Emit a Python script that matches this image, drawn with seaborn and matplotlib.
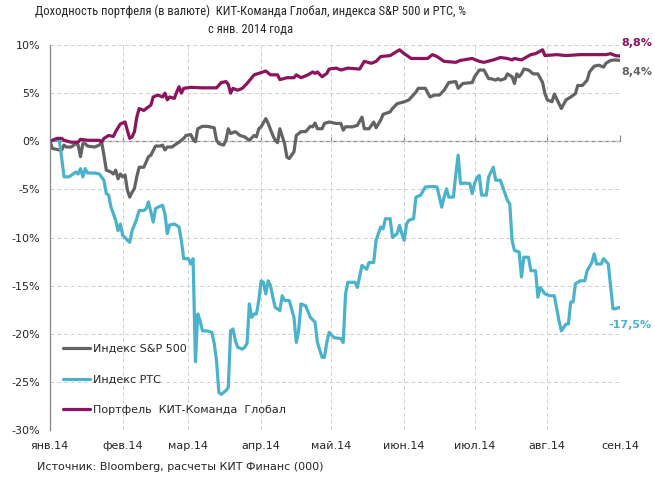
import pandas as pd
import matplotlib
matplotlib.use('Agg')
import matplotlib.pyplot as plt
import seaborn as sns

# даты (2014 год, ММ-ДД) и доходности, %
port_dates = ['01-01', '01-04', '01-06', '01-07', '01-10', '01-13', '01-14', '01-17', '01-22', '01-23', '01-24', '01-26', '01-28', '01-29', '01-31',
              '02-02', '02-03', '02-04', '02-05', '02-06', '02-07', '02-08', '02-10', '02-11', '02-13', '02-14', '02-16', '02-18', '02-19', '02-20', '02-21', '02-23', '02-24', '02-25', '02-26', '02-27',
              '03-02', '03-07', '03-13', '03-15', '03-17', '03-18', '03-19', '03-20', '03-22', '03-24', '03-26', '03-29', '03-31',
              '04-03', '04-05', '04-08', '04-09', '04-12', '04-15', '04-16', '04-18', '04-21', '04-23', '04-24', '04-25', '04-27', '04-29', '04-30',
              '05-03', '05-05', '05-08', '05-13', '05-15', '05-18', '05-20', '05-22', '05-26', '05-28', '05-30',
              '06-01', '06-04', '06-08', '06-11', '06-13', '06-15', '06-18', '06-23', '06-25', '06-30',
              '07-03', '07-05', '07-09', '07-12', '07-15', '07-17', '07-18', '07-21', '07-25', '07-27', '07-30', '07-31',
              '08-05', '08-09', '08-15', '08-21', '08-26', '08-28', '08-30',
              '09-01']
port_vals = [0.0, 0.3, 0.3, 0.1, -0.1, -0.1, 0.2, 0.1, 0.1, -0.05, 0.3, 0.6, 0.5, 1.0, 1.8,
             2.0, 1.1, 0.3, 0.45, 1.0, 2.5, 3.4, 3.2, 3.4, 3.75, 4.6, 4.8, 4.6, 5.0, 4.3, 4.6, 4.45, 5.1, 5.66, 5.0, 5.5,
             5.6, 5.55, 5.55, 6.1, 6.2, 5.9, 5.0, 5.5, 5.3, 5.5, 6.0, 6.9, 7.05,
             7.3, 6.9, 6.9, 6.4, 6.6, 6.6, 6.9, 6.6, 6.9, 7.2, 7.05, 7.2, 6.7, 7.05, 7.5,
             7.6, 7.4, 7.6, 7.5, 8.3, 8.1, 8.3, 8.8, 8.9, 9.2, 9.5,
             9.1, 8.6, 8.6, 8.6, 9.0, 8.8, 8.3, 8.2, 8.4, 8.6,
             8.3, 8.2, 8.45, 8.7, 8.6, 8.45, 8.6, 8.45, 9.0, 9.1, 9.5, 8.9,
             9.0, 8.9, 9.0, 9.0, 9.0, 9.1, 8.9,
             8.85]

sp_dates = ['01-01', '01-02', '01-05', '01-06', '01-07', '01-08', '01-10', '01-12', '01-13', '01-14', '01-15', '01-16', '01-17', '01-20', '01-22', '01-23', '01-24', '01-25', '01-27', '01-28', '01-29', '01-30', '01-31',
            '02-01', '02-02', '02-03', '02-04', '02-05', '02-06', '02-07', '02-08', '02-10', '02-12', '02-13', '02-15', '02-17', '02-18', '02-19', '02-20', '02-22', '02-24', '02-25', '02-27', '02-28',
            '03-02', '03-03', '03-04', '03-05', '03-07', '03-09', '03-12', '03-13', '03-14', '03-16', '03-17', '03-18', '03-19', '03-21', '03-23', '03-25', '03-27', '03-29', '03-30', '03-31',
            '04-01', '04-03', '04-04', '04-06', '04-07', '04-08', '04-09', '04-11', '04-12', '04-13', '04-15', '04-16', '04-18', '04-20', '04-22', '04-23', '04-24', '04-25', '04-27', '04-28', '04-30',
            '05-03', '05-05', '05-06', '05-07', '05-10', '05-12', '05-14', '05-15', '05-17', '05-18', '05-19', '05-20', '05-22', '05-23', '05-26', '05-27', '05-29',
            '06-01', '06-03', '06-06', '06-07', '06-10', '06-12', '06-14', '06-16', '06-18', '06-20', '06-23', '06-24', '06-26', '06-30',
            '07-01', '07-03', '07-05', '07-07', '07-08', '07-10', '07-11', '07-12', '07-14', '07-15', '07-17', '07-18', '07-19', '07-20', '07-21', '07-22', '07-24', '07-26', '07-28', '07-30', '07-31',
            '08-01', '08-03', '08-04', '08-06', '08-07', '08-09', '08-10', '08-11', '08-13', '08-14', '08-16', '08-18', '08-19', '08-21', '08-23', '08-25', '08-26', '08-28', '08-30',
            '09-01']
sp_vals = [0.0, -0.75, -0.9, -0.9, -0.4, -0.6, -0.6, -0.25, -0.4, -1.6, -0.25, -0.25, -0.5, -0.6, -0.4, -0.05, -1.45, -3.0, -3.2, -3.4, -3.0, -3.9, -3.4,
           -3.7, -3.5, -5.1, -5.8, -5.3, -4.9, -3.7, -2.7, -2.7, -1.6, -1.45, -0.5, -0.5, -0.4, -0.9, -0.6, -0.6, -0.25, -0.1, 0.3, 0.6,
           0.7, 0.2, -0.05, 1.3, 1.55, 1.55, 1.4, 0.1, -0.25, -0.4, 0.1, 1.3, 0.8, 1.0, 0.6, 0.45, 0.1, 0.6, 0.45, 1.3,
           1.5, 2.35, 1.85, 0.6, 0.1, -0.15, 1.3, -0.25, -1.65, -1.8, -1.1, 0.6, 1.0, 1.0, 1.55, 1.5, 1.9, 1.3, 1.3, 1.85, 2.0,
           1.85, 1.85, 1.15, 1.5, 1.5, 1.65, 2.5, 1.3, 1.3, 1.65, 2.0, 1.4, 2.2, 2.8, 3.05, 3.4, 3.9,
           4.1, 4.3, 5.1, 5.5, 5.5, 4.6, 4.8, 4.8, 5.3, 6.1, 6.2, 5.5, 6.0, 6.1,
           6.7, 7.4, 7.4, 6.5, 6.5, 6.35, 6.5, 6.35, 6.5, 7.0, 6.7, 6.0, 7.0, 6.7, 7.0, 7.5, 7.4, 7.0, 7.0, 6.1, 4.95,
           4.3, 4.1, 4.9, 3.9, 3.4, 4.3, 4.45, 4.6, 4.95, 5.8, 5.8, 6.35, 7.2, 7.8, 7.9, 7.7, 8.1, 8.4, 8.45,
           8.4]

rts_dates = ['01-01', '01-03', '01-05', '01-06', '01-07', '01-09', '01-10', '01-12', '01-13', '01-14', '01-15', '01-16', '01-17', '01-20', '01-22', '01-24', '01-25', '01-26', '01-27', '01-29', '01-30', '01-31',
             '02-01', '02-02', '02-03', '02-04', '02-05', '02-07', '02-08', '02-10', '02-11', '02-12', '02-14', '02-15', '02-16', '02-18', '02-19', '02-20', '02-21', '02-23', '02-25', '02-26', '02-27',
             '03-01', '03-02', '03-03', '03-04', '03-05', '03-06', '03-07', '03-09', '03-11', '03-12', '03-13', '03-14', '03-15', '03-17', '03-18', '03-19', '03-20', '03-21', '03-22', '03-24', '03-25', '03-26', '03-27', '03-28', '03-29', '03-30', '03-31',
             '04-01', '04-02', '04-03', '04-04', '04-05', '04-06', '04-07', '04-09', '04-10', '04-11', '04-13', '04-15', '04-16', '04-17', '04-18', '04-20', '04-22', '04-24', '04-25', '04-27', '04-28', '04-29', '04-30',
             '05-02', '05-05', '05-06', '05-07', '05-08', '05-11', '05-12', '05-14', '05-16', '05-17', '05-19', '05-20', '05-22', '05-23', '05-24', '05-26', '05-27', '05-29', '05-30', '05-31',
             '06-01', '06-02', '06-03', '06-05', '06-06', '06-08', '06-10', '06-13', '06-15', '06-16', '06-17', '06-18', '06-19', '06-20', '06-22', '06-23', '06-24', '06-25', '06-27', '06-29', '06-30',
             '07-01', '07-02', '07-03', '07-04', '07-06', '07-07', '07-09', '07-10', '07-12', '07-15', '07-16', '07-17', '07-18', '07-20', '07-21', '07-22', '07-24', '07-25', '07-27', '07-28', '07-29', '07-31',
             '08-02', '08-04', '08-06', '08-07', '08-09', '08-10', '08-11', '08-12', '08-13', '08-15', '08-17', '08-18', '08-20', '08-21', '08-22', '08-24', '08-25', '08-27', '08-29', '08-30',
             '09-01']
rts_vals = [0.0, 0.15, 0.1, -1.8, -3.7, -3.7, -3.55, -3.2, -3.4, -2.85, -3.7, -2.85, -3.3, -3.3, -3.4, -4.05, -5.45, -5.6, -6.85, -8.2, -9.3, -8.6,
            -9.8, -10.0, -10.3, -10.5, -9.3, -8.05, -7.2, -7.2, -7.0, -6.3, -8.4, -7.0, -6.85, -6.65, -7.55, -9.6, -8.7, -8.6, -8.9, -10.3, -12.2,
            -12.2, -12.75, -12.2, -22.9, -17.95, -18.65, -19.7, -19.7, -19.85, -21.0, -22.8, -26.1, -26.3, -25.9, -25.6, -19.7, -19.5, -20.7, -21.4, -21.6, -21.4, -21.0, -16.9, -18.3, -17.95, -17.95, -16.55,
            -14.5, -14.65, -15.85, -14.5, -15.0, -16.2, -17.25, -17.6, -16.05, -16.55, -16.55, -18.3, -20.9, -19.7, -16.9, -17.1, -18.3, -18.8, -20.9, -22.45, -22.45, -20.9, -19.85,
            -20.4, -20.5, -20.9, -15.85, -14.65, -14.65, -15.2, -12.9, -13.3, -12.6, -12.6, -10.3, -8.9, -9.1, -8.05, -8.05, -10.0, -9.6, -8.75, -9.6,
            -10.3, -8.6, -8.2, -8.05, -5.8, -5.6, -4.75, -4.7, -4.75, -5.8, -6.85, -5.8, -4.95, -5.8, -5.8, -3.4, -1.45, -4.4, -4.35, -4.4, -5.45,
            -4.4, -3.8, -3.55, -5.6, -5.6, -3.7, -2.7, -4.05, -4.05, -6.15, -6.5, -10.3, -11.35, -11.5, -14.1, -12.05, -12.05, -13.45, -13.45, -16.2, -15.2, -15.85,
            -16.05, -16.05, -18.65, -19.7, -19.0, -19.0, -16.7, -16.7, -14.8, -14.5, -14.5, -13.45, -12.6, -11.7, -12.75, -12.75, -12.2, -12.75, -17.4, -17.4,
            -17.25]

month_starts = ['01-01', '02-01', '03-01', '04-01', '05-01', '06-01', '07-01', '08-01', '09-01']
month_labels = ['янв.14', 'фев.14', 'мар.14', 'апр.14', 'май.14', 'июн.14', 'июл.14', 'авг.14', 'сен.14']
y_ticks = [10, 5, 0, -5, -10, -15, -20, -25, -30]
y_labels = ['10%', '5%', '0%', '-5%', '-10%', '-15%', '-20%', '-25%', '-30%']

names = ['Индекс S&P 500', 'Индекс РТС', 'Портфель  КИТ-Команда  Глобал']
end_labels = ['8,4%', '-17,5%', '8,8%']
colors = ['#636363', '#4BB2CC', '#8C135E']

def to_dt(lst):
    return pd.to_datetime(['2014-' + d for d in lst])

sns.set_style('white')
plt.rcParams['font.family'] = ['DejaVu Sans']

fig = plt.figure(figsize=(6.55, 4.88), dpi=100)
ax = fig.add_axes([50 / 655, 1 - 430 / 488, 570 / 655, 385 / 488])

series = [(sp_dates, sp_vals), (rts_dates, rts_vals), (port_dates, port_vals)]
for (d, v), name, col in zip(series, names, colors):
    df = pd.DataFrame({'date': to_dt(d), 'val': v})
    sns.lineplot(data=df, x='date', y='val', ax=ax, color=col, lw=2.3, label=name)

# подписи последних значений
offsets = [(1, -12), (-12, -18), (1, 13)]
for (d, v), txt, col, off in zip(series, end_labels, colors, offsets):
    ax.annotate(txt, xy=(to_dt(d)[-1], v[-1]), xytext=off, textcoords='offset pixels',
                color=col, fontsize=8, fontweight='bold', ha='left', va='center',
                annotation_clip=False)

ax.set_xlim(to_dt(month_starts)[0], to_dt(month_starts)[-1])
ax.set_ylim(-30, 10)
ax.set_xticks(to_dt(month_starts))
ax.set_xticklabels(month_labels, fontsize=8)
ax.set_yticks(y_ticks)
ax.set_yticklabels(y_labels, fontsize=8)
ax.set_xlabel('')
ax.set_ylabel('')
ax.tick_params(axis='x', length=0, pad=8)
ax.tick_params(axis='y', length=4, width=0.8, color='#868686', direction='out', pad=3)
ax.grid(True, linestyle=(0, (4, 3)), color='#CFCFCF', lw=0.7)
for s in ['top', 'right', 'bottom']:
    ax.spines[s].set_visible(False)
ax.spines['left'].set_color('#868686')
ax.spines['left'].set_linewidth(0.9)

# ось категорий пересекает на 0%
zero_ax = ax.secondary_xaxis(0.75)
zero_ax.set_xticks(to_dt(month_starts))
zero_ax.set_xticklabels([])
zero_ax.tick_params(length=4, width=0.8, color='#868686', direction='out')
zero_ax.spines['bottom'].set_color('#868686')
zero_ax.spines['bottom'].set_linewidth(0.9)
zero_ax.spines['top'].set_color('#868686')
zero_ax.spines['top'].set_linewidth(0.9)

ax.legend(loc='upper left', bbox_to_anchor=(0.015, 0.236), frameon=False, fontsize=8,
          handlelength=2.4, handletextpad=0.3, labelspacing=1.88, borderaxespad=0)

fig.text(0.383, 0.99, 'Доходность портфеля (в валюте)  КИТ-Команда Глобал, индекса S&P 500 и РТС, %\nс янв. 2014 года',
         ha='center', va='top', fontsize=9, family=['Liberation Sans Narrow', 'Roboto Condensed', 'Roboto', 'DejaVu Sans'],
         fontstretch='condensed', linespacing=1.45)
fig.text(37 / 655, 1 - 467 / 488, 'Источник: Bloomberg, расчеты КИТ Финанс (000)', ha='left', va='center', fontsize=8)

fig.savefig('out.png', dpi=100)
